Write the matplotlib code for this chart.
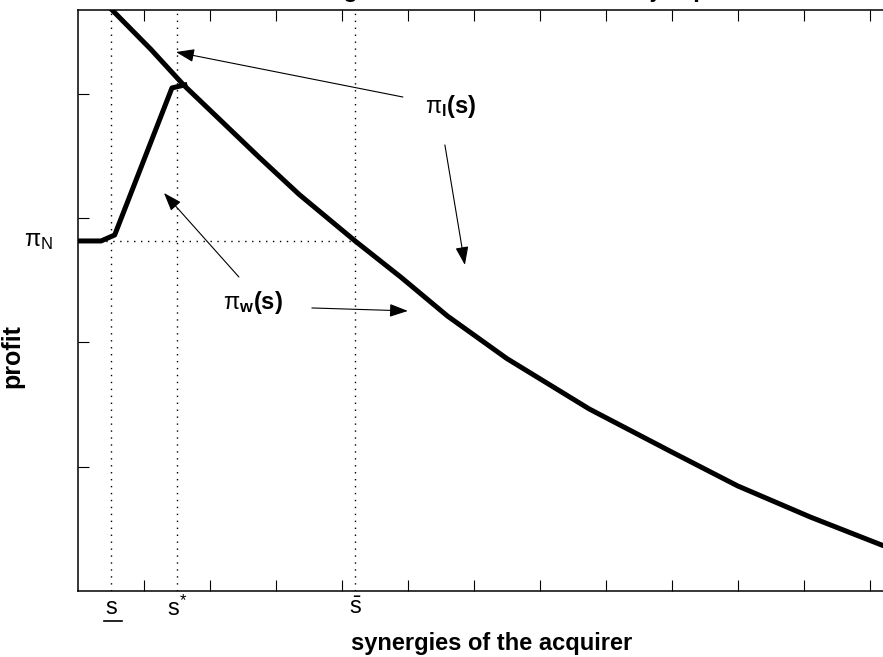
import matplotlib
matplotlib.use("Agg")
import matplotlib.pyplot as plt
import matplotlib.transforms as mtransforms

plt.rcParams['font.family'] = ['Liberation Sans', 'DejaVu Sans']
plt.rcParams['mathtext.fontset'] = 'custom'
plt.rcParams['mathtext.rm'] = 'Liberation Sans'
plt.rcParams['mathtext.bf'] = 'Liberation Sans:bold'
plt.rcParams['mathtext.it'] = 'Liberation Sans:italic'

# profit of the winning acquirer, pi_l(s)
s_l = [0.45, 1.1, 1.6, 2.15, 2.75, 3.35, 4.2, 4.9, 5.6, 6.5, 7.75, 9.0, 10.0, 11.1, 12.2, 12.6]
pi_l = [4.71, 4.36, 4.071, 3.792, 3.487, 3.191, 2.816, 2.522, 2.212, 1.870, 1.464,
        1.118, 0.845, 0.595, 0.366, 0.30]

# profit pi_w(s)
s_w = [0.0, 0.35, 0.556, 1.424, 1.62]
pi_w = [2.816, 2.816, 2.864, 4.047, 4.071]

pi_N = 2.816
s_low = 0.5
s_star = 1.5
s_bar = 4.2

fig = plt.figure(figsize=(8.83, 6.57), dpi=100)
ax = fig.add_axes([78 / 883, 66 / 657, 828 / 883, 581 / 657])

ax.plot(s_l, pi_l, color='black', lw=3.6)
ax.plot(s_w, pi_w, color='black', lw=3.6, solid_joinstyle='round')

dot = (0, (1, 4))
for s in [s_low, s_star, s_bar]:
    ax.axvline(s, color='black', lw=1, ls=dot)
ax.plot([0, s_bar], [pi_N, pi_N], color='black', lw=1, ls=dot)

ax.set_xlim(0, 12.55)
ax.set_ylim(0, 4.674)
ax.set_xticks(range(1, 13))
ax.set_yticks([1, 2, 3, 4])
ax.set_xticklabels([])
ax.set_yticklabels([])
ax.tick_params(direction='in', length=8, width=0.8, top=True, right=True)
for sp in ax.spines.values():
    sp.set_linewidth(1.1)

trans = mtransforms.blended_transform_factory(ax.transData, ax.transAxes)
ax.text(s_low, -0.03, 's', transform=trans, ha='center', va='center', fontsize=17)
ax.plot([0.39, 0.66], [-0.052, -0.052], transform=trans, color='black', lw=1.2, clip_on=False)
ax.text(s_star, -0.03, r'$\mathrm{s}^{*}$', transform=trans, ha='center', va='center', fontsize=17)
ax.text(s_bar, -0.03, r'$\bar{\mathrm{s}}$', transform=trans, ha='center', va='center', fontsize=17)
ax.text(-0.6, pi_N, r'$\mathrm{\pi}_{\mathrm{N}}$', ha='center', va='center', fontsize=17)

ax.text(5.652, 3.894, r'$\mathrm{\pi}_{\mathbf{l}}\mathbf{(s)}$', ha='center', va='center', fontsize=17)
ax.text(2.652, 2.317, r'$\mathrm{\pi}_{\mathbf{w}}\mathbf{(s)}$', ha='center', va='center', fontsize=17)

arrows = [((4.924, 3.974), (1.485, 4.336)),
          ((5.561, 3.588), (5.864, 2.623)),
          ((2.439, 2.526), (1.303, 3.202)),
          ((3.545, 2.277), (5.0, 2.253))]
for tail, head in arrows:
    ax.annotate('', xy=head, xytext=tail,
                arrowprops=dict(arrowstyle='-|>,head_length=0.7,head_width=0.25', lw=0.8,
                                color='black', mutation_scale=16, shrinkA=0, shrinkB=0))

ax.set_xlabel('synergies of the acquirer', fontsize=17, fontweight='bold', labelpad=26)
ax.set_ylabel('profit', fontsize=18, fontweight='bold')
ax.yaxis.set_label_coords(-0.065, 0.404)
fig.text(492 / 883, 1.0 + 3 / 657, 'Takeover gains when the first bidder jumps in',
         ha='center', va='baseline', fontsize=17, fontweight='bold')

fig.savefig('out.png', dpi=100)
